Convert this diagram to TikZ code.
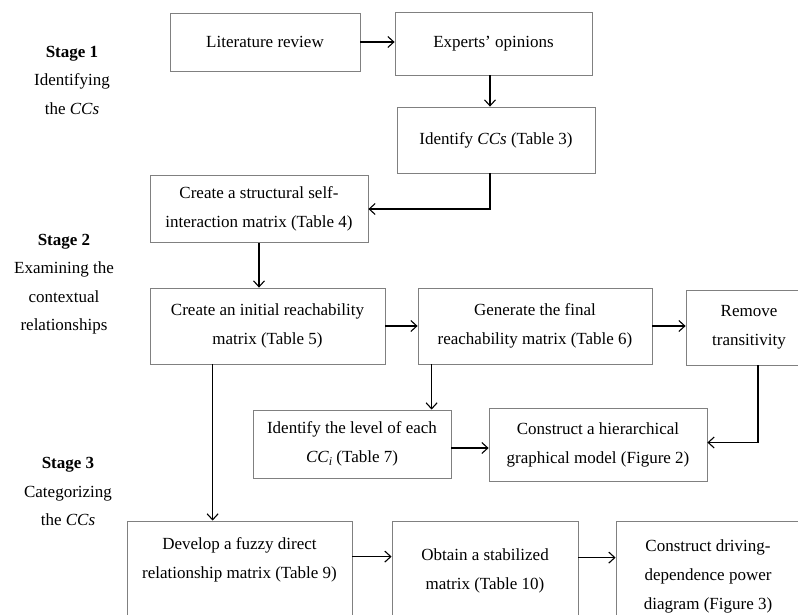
\documentclass[tikz,border=0pt]{standalone}
\usepackage{fontspec}
\setmainfont{Liberation Serif}
\usetikzlibrary{arrows.meta}
\begin{document}
\begin{tikzpicture}[x=1pt,y=-1pt,
  box/.style={draw=boxgray, line width=0.8pt, align=center, inner sep=2pt,
    font=\fontsize{17}{29}\selectfont, text=black},
  stagelbl/.style={align=center, font=\fontsize{17}{28.5}\selectfont},
  arr/.style={draw=black, line width=1.2pt, -{Straight Barb[length=6pt,width=11pt,line width=1.1pt]}}]
\definecolor{boxgray}{RGB}{128,128,128}
\clip (0,0) rectangle (798,614);
\fill[white] (0,0) rectangle (798,614);
% boxes
\node[box, minimum width=190pt, minimum height=58pt] (lit) at (265,42) {Literature review};
\node[box, minimum width=197pt, minimum height=63pt] (exp) at (493.5,43.5) {Experts’ opinions};
\node[box, minimum width=198pt, minimum height=66pt] (idcc) at (496,140) {Identify \textit{CCs} (Table 3)};
\node[box, minimum width=218pt, minimum height=67pt] (ssim) at (259,209) {Create a structural self-\\interaction matrix (Table 4)};
\node[box, minimum width=235pt, minimum height=76pt] (irm) at (267.5,326) {Create an initial reachability\\matrix (Table 5)};
\node[box, minimum width=234pt, minimum height=76pt] (frm) at (535,326) {Generate the final\\reachability matrix (Table 6)};
\node[box, minimum width=126pt, minimum height=75pt] (rt) at (749,327.5) {Remove\\transitivity};
\node[box, minimum width=198pt, minimum height=68pt] (lev) at (352,444) {Identify the level of each\\\textit{CC}\raisebox{-0.3ex}{\fontsize{12}{12}\selectfont\textit{i}} (Table 7)};
\node[box, minimum width=218pt, minimum height=73pt] (hier) at (598,444.5) {Construct a hierarchical\\graphical model (Figure 2)};
\node[box, minimum width=225pt, minimum height=104pt] (fuzzy) at (239.5,573) {Develop a fuzzy direct\\relationship matrix (Table 9)\\~};
\node[box, minimum width=186pt, minimum height=100pt] (stab) at (485,571) {Obtain a stabilized\\matrix (Table 10)};
\node[box, minimum width=184pt, minimum height=110pt] (drv) at (708,576) {Construct driving-\\dependence power\\diagram (Figure 3)};
% stage labels
\node[stagelbl] (s1) at (72,80) {\textbf{Stage 1}\\Identifying\\the \textit{CCs}};
\node[stagelbl] (s2) at (64,284) {\textbf{Stage 2}\\Examining the\\contextual\\relationships};
\node[stagelbl] (s3) at (68,491.5) {\textbf{Stage 3}\\Categorizing\\the \textit{CCs}};
% connectors
\draw[arr] (lit.east) -- (lit.east -| exp.west);
\draw[arr] ([xshift=-3.5pt]exp.south) -- ([xshift=-3.5pt]exp.south |- idcc.north);
\draw[arr] ([xshift=-6pt]idcc.south) |- (ssim.east);
\draw[arr] (ssim.south) -- (ssim.south |- irm.north);
\draw[arr] (irm.east) -- (irm.east -| frm.west);
\draw[arr] (frm.east) -- (frm.east -| rt.west);
\draw[arr] ([xshift=14pt]frm.south west) -- ([xshift=14pt]frm.south west |- lev.north);
\draw[arr] ([xshift=9pt]rt.south) |- ([yshift=2pt]hier.east);
\draw[arr] ([yshift=-4pt]lev.east) -- ([yshift=-4pt]lev.east -| hier.west);
\draw[arr] ([xshift=63pt]irm.south west) -- ([xshift=63pt]irm.south west |- fuzzy.north);
\draw[arr] ([yshift=-36pt]fuzzy.north east) -- ([yshift=-36pt]fuzzy.north east -| stab.west);
\draw[arr] ([yshift=-37pt]stab.north east) -- ([yshift=-37pt]stab.north east -| drv.west);
\end{tikzpicture}
\end{document}
